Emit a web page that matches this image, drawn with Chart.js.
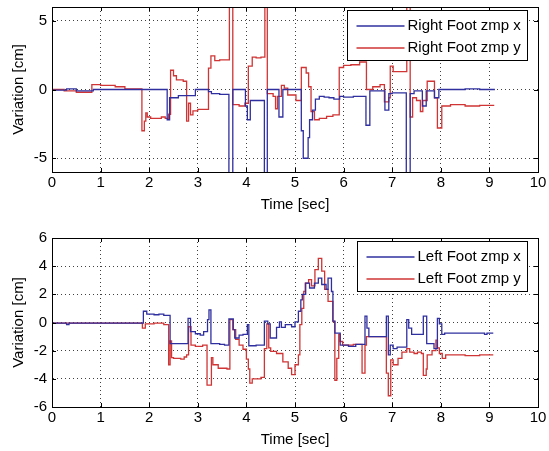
<!DOCTYPE html>
<html>
<head>
<meta charset="utf-8">
<script src="https://cdn.jsdelivr.net/npm/chart.js@4.4.0/dist/chart.umd.min.js"></script>
<style>
  body { margin: 0; background: #fff; }
  canvas { position: absolute; left: 0; }
  #top { top: 0; }
  #bottom { top: 230px; }
</style>
</head>
<body>
<canvas id="top" width="549" height="215"></canvas>
<canvas id="bottom" width="549" height="220"></canvas>
<script>
// [time (sec), variation (cm)] — each value holds until the next time
const rightX = [[0,-0.05],[0.3,0.05],[0.5,-0.1],[0.85,0],[2.37,-2.2],[2.42,-0.6],[2.6,-0.45],[2.95,0],[3.22,-0.15],
  [3.28,-0.3],[3.45,-0.35],[3.64,-8],[3.72,0],[3.98,-1.2],[4.02,-2.2],[4.08,-0.8],[4.37,-8],[4.43,0],[4.67,-2.0],
  [4.75,0],[5.13,-3.0],[5.17,-5],[5.27,-3.5],[5.3,-2.2],[5.36,-1.5],[5.42,-0.7],[5.5,-0.5],[5.6,-0.55],[5.7,-0.6],
  [5.8,-0.7],[5.92,-0.5],[6.0,-0.55],[6.2,-0.5],[6.46,-2.6],[6.54,-0.1],[6.85,-1.5],[6.93,-0.3],[7.0,-0.25],
  [7.29,-8],[7.37,-0.3],[7.45,-0.1],[7.62,-1.2],[7.7,-0.1],[7.87,-0.6],[7.96,0],[8.5,0.05],[8.8,0],[9.1,0.05]];
const rightY = [[0,0],[0.25,-0.1],[0.5,-0.2],[0.82,0.35],[1.0,0.3],[1.3,0.2],[1.5,0.05],[1.85,-3.0],[1.9,-2.3],
  [1.93,-1.7],[1.96,-2.0],[2.03,-2.1],[2.25,-2.0],[2.33,-2.1],[2.4,-1.8],[2.44,1.4],[2.5,1.0],[2.56,0.7],[2.7,0.6],
  [2.77,-2.3],[2.81,-1.0],[2.85,-1.85],[2.9,-1.55],[3.0,-1.45],[3.22,1.55],[3.27,2.45],[3.35,2.1],[3.45,2.15],
  [3.65,8],[3.72,-1.1],[3.85,-1.2],[3.97,-1.0],[4.04,1.7],[4.12,2.35],[4.2,2.3],[4.3,2.35],[4.38,8],[4.43,-0.3],
  [4.55,-0.5],[4.6,-1.4],[4.64,-0.5],[4.72,0.3],[4.78,0.1],[4.85,-0.4],[5.02,-0.8],[5.13,1.6],[5.23,1.2],
  [5.28,0.2],[5.33,-1.6],[5.4,-2.2],[5.5,-2.1],[5.65,-1.95],[5.78,-1.85],[5.91,1.6],[6.0,1.75],[6.15,1.8],
  [6.33,2.0],[6.47,0.0],[6.6,0.2],[6.75,0.35],[6.84,-0.9],[6.93,-0.6],[6.96,1.7],[7.02,1.3],[7.3,8],[7.37,-2.0],
  [7.42,-0.6],[7.5,-0.8],[7.58,-1.6],[7.63,-0.8],[7.72,0.6],[7.87,-0.6],[7.93,-2.8],[8.02,-1.2],[8.2,-1.1],
  [8.5,-1.2],[8.8,-1.15],[9.1,-1.15]];
const leftX = [[0,-0.05],[0.3,-0.15],[0.35,-0.05],[1.88,0.8],[1.95,0.6],[2.1,0.55],[2.2,0.6],[2.3,0.5],[2.43,-1.5],
  [2.8,0.3],[2.85,-0.65],[2.95,-0.8],[3.05,-0.9],[3.12,-0.65],[3.2,0.2],[3.23,0.9],[3.27,-1.5],[3.45,-1.55],
  [3.55,-1.6],[3.64,0.25],[3.73,-0.5],[3.76,-1.1],[3.85,-0.9],[3.93,-0.85],[4.02,-0.15],[4.05,-1.65],[4.2,-1.6],
  [4.37,0.1],[4.44,-0.1],[4.49,-1.1],[4.62,-0.35],[4.68,0.05],[4.72,-0.35],[4.8,-0.15],[4.93,-0.3],[5.0,0.05],
  [5.07,0.8],[5.12,1.6],[5.15,2.0],[5.22,2.8],[5.3,2.45],[5.4,2.8],[5.48,3.15],[5.55,2.7],[5.64,2.35],[5.68,3.15],
  [5.75,2.2],[5.78,0.1],[5.82,-0.75],[5.93,-1.6],[6.1,-1.7],[6.25,-1.55],[6.44,0.45],[6.48,-0.4],[6.52,-1.0],
  [6.88,0.45],[6.92,-2.3],[6.96,-1.6],[7.02,-1.85],[7.1,-1.75],[7.3,0.2],[7.34,-0.4],[7.4,-0.85],[7.64,0.45],
  [7.71,-1.5],[7.86,-1.85],[7.93,0.3],[7.97,-0.1],[8.02,-0.85],[8.08,-0.75],[8.9,-0.85],[8.95,-0.75],[9.08,-0.75]];
const leftY = [[0,-0.05],[1.86,-0.4],[1.92,-0.1],[2.1,-0.05],[2.3,-0.15],[2.4,-3.0],[2.43,-1.3],[2.46,-2.5],
  [2.5,-2.55],[2.65,-2.6],[2.72,-2.45],[2.77,-2.3],[2.81,-0.3],[2.86,-1.6],[2.95,-1.7],[3.1,-1.6],[3.19,-4.45],
  [3.28,-2.5],[3.31,-3.0],[3.42,-3.25],[3.6,-3.3],[3.66,0.2],[3.72,-0.5],[3.78,-1.2],[3.85,-1.6],[3.93,-1.9],
  [4.0,-2.6],[4.04,-3.3],[4.07,-4.3],[4.12,-4.0],[4.3,-3.9],[4.37,-1.85],[4.42,-0.1],[4.46,-1.8],[4.5,-2.05],
  [4.62,-2.2],[4.75,-2.8],[4.86,-3.25],[4.93,-3.7],[5.0,-3.0],[5.07,-2.3],[5.1,-0.15],[5.14,1.0],[5.18,2.2],
  [5.21,2.8],[5.28,3.05],[5.34,2.6],[5.41,3.75],[5.48,4.55],[5.55,3.65],[5.61,2.35],[5.68,1.5],[5.78,0.07],
  [5.82,-4.1],[5.86,-2.55],[5.9,-0.85],[5.93,-1.35],[5.98,-1.6],[6.2,-1.55],[6.38,-3.6],[6.44,-1.6],[6.47,-1.0],
  [6.88,-3.6],[6.92,-5.2],[6.97,-2.65],[7.02,-3.0],[7.12,-2.55],[7.2,-2.1],[7.3,-1.85],[7.36,-2.1],[7.45,-2.2],
  [7.52,-2.1],[7.6,-2.2],[7.64,-3.75],[7.7,-3.3],[7.72,-2.3],[7.82,-2.0],[7.9,-1.25],[7.93,-1.8],[7.97,-2.2],
  [8.03,-2.55],[8.1,-2.3],[8.5,-2.35],[8.8,-2.3],[9.08,-2.3]];

const topNames = ['Right Foot zmp x', 'Right Foot zmp y'];
const bottomNames = ['Left Foot zmp x', 'Left Foot zmp y'];
const topTicks = [-5, 0, 5];
const bottomTicks = [-6, -4, -2, 0, 2, 4, 6];

const COLORS = ['#2f2fa0', '#d03434'];
const FAMILY = '"Liberation Sans", Arial, sans-serif';

// matlab style: closed box, inward ticks, boxed legend inside the axes
const matlabAxes = {
  id: 'matlabAxes',
  afterDatasetsDraw(chart) {
    const ctx = chart.ctx;
    const a = chart.chartArea;
    const xs = chart.scales.x, ys = chart.scales.y;
    ctx.save();
    ctx.strokeStyle = '#000';
    ctx.lineWidth = 1;
    ctx.strokeRect(Math.round(a.left) + 0.5, Math.round(a.top) + 0.5,
      Math.round(a.right - a.left), Math.round(a.bottom - a.top));
    ctx.beginPath();
    xs.ticks.forEach(t => {
      const px = Math.round(xs.getPixelForValue(t.value)) + 0.5;
      ctx.moveTo(px, a.bottom); ctx.lineTo(px, a.bottom - 4);
      ctx.moveTo(px, a.top); ctx.lineTo(px, a.top + 4);
    });
    ys.ticks.forEach(t => {
      const py = Math.round(ys.getPixelForValue(t.value)) + 0.5;
      ctx.moveTo(a.left, py); ctx.lineTo(a.left + 4, py);
      ctx.moveTo(a.right, py); ctx.lineTo(a.right - 4, py);
    });
    ctx.stroke();

    // legend
    ctx.font = '15px ' + FAMILY;
    const sets = chart.data.datasets;
    const textW = Math.max(...sets.map(d => ctx.measureText(d.label).width));
    const w = Math.round(9 + 48 + 3 + textW + 7);
    const h = 50;
    const x0 = Math.round(a.right - 11 - w) + 0.5;
    const y0 = Math.round(a.top + 3) + 0.5;
    ctx.fillStyle = '#fff';
    ctx.fillRect(x0, y0, w, h);
    ctx.strokeStyle = '#000';
    ctx.strokeRect(x0, y0, w, h);
    ctx.textBaseline = 'middle';
    sets.forEach((d, i) => {
      const cy = Math.round(y0 + 15 + i * 22);
      ctx.strokeStyle = COLORS[i];
      ctx.lineWidth = 1.5;
      ctx.beginPath();
      ctx.moveTo(x0 + 9, cy); ctx.lineTo(x0 + 57, cy);
      ctx.stroke();
      ctx.fillStyle = '#000';
      ctx.fillText(d.label, x0 + 60, cy);
    });
    ctx.restore();
  }
};

function makeChart(id, seriesA, seriesB, names, yTicks, padTop) {
  const font = { family: FAMILY, size: 15 };
  return new Chart(document.getElementById(id), {
    type: 'line',
    data: {
      datasets: [
        { label: names[0], data: seriesA.map(p => ({ x: p[0], y: p[1] })), borderColor: COLORS[0] },
        { label: names[1], data: seriesB.map(p => ({ x: p[0], y: p[1] })), borderColor: COLORS[1] }
      ].map(d => Object.assign(d, { borderWidth: 1.3, pointRadius: 0, stepped: true, fill: false }))
    },
    options: {
      responsive: false,
      animation: false,
      layout: { padding: { top: padTop, right: 11, left: 0, bottom: 0 } },
      plugins: { legend: { display: false }, tooltip: { enabled: false } },
      scales: {
        x: {
          type: 'linear', min: 0, max: 10,
          ticks: { stepSize: 1, font: font, color: '#000', padding: 2, maxRotation: 0, autoSkip: false },
          grid: { color: 'rgba(0,0,0,0.75)', drawTicks: false },
          border: { dash: [1, 3], color: '#000' },
          title: { display: true, text: 'Time [sec]', font: font, color: '#000', padding: { top: 0, bottom: 1 } },
          afterFit: s => { s.height = 43; s.paddingLeft = 0; s.paddingRight = 0; }
        },
        y: {
          min: -6, max: 6,
          afterBuildTicks: s => { s.ticks = yTicks.map(v => ({ value: v })); },
          ticks: { font: font, color: '#000', padding: 5 },
          grid: { color: 'rgba(0,0,0,0.75)', drawTicks: false },
          border: { dash: [1, 3], color: '#000' },
          title: { display: true, text: 'Variation [cm]', font: font, color: '#000', padding: { top: 10, bottom: 0 } },
          afterFit: s => { s.width = 52; s.paddingTop = 0; s.paddingBottom = 0; }
        }
      }
    },
    plugins: [matlabAxes]
  });
}

makeChart('top', rightX, rightY, topNames, topTicks, 7);
makeChart('bottom', leftX, leftY, bottomNames, bottomTicks, 8);
</script>
</body>
</html>
